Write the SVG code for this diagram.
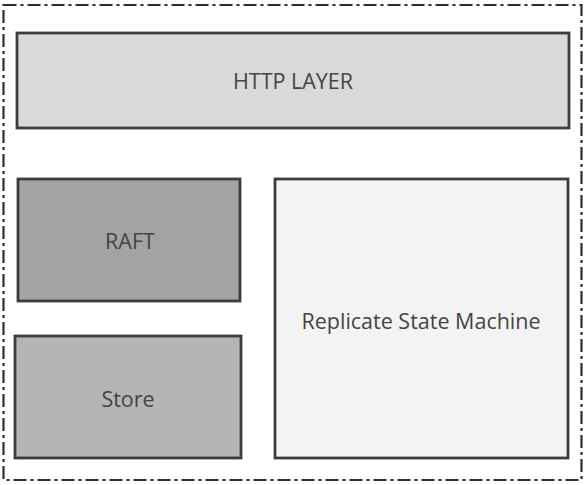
<svg xmlns="http://www.w3.org/2000/svg" width="587" height="485" viewBox="0 0 587 485">
  <style>
    .frame { fill: none; stroke: #2e2e2e; stroke-width: 2.2; stroke-dasharray: 13 4 3 4; }
    .box { stroke: #3c3c3c; stroke-width: 2.8; }
    .label { font-family: "Open Sans", "Noto Sans", "Liberation Sans", sans-serif; font-size: 21.5px; fill: #444444; text-anchor: middle; dominant-baseline: central; }
  </style>
  <rect width="587" height="485" fill="#ffffff"/>
  <!-- outer dash-dot boundary -->
  <rect class="frame" x="3.5" y="5" width="578" height="475"/>
  <g id="http-layer">
    <rect class="box" x="17" y="33" width="552" height="95" fill="#d9d9d9"/>
    <text class="label" x="293" y="80">HTTP LAYER</text>
  </g>
  <g id="raft">
    <rect class="box" x="18" y="179" width="222" height="122" fill="#a3a3a3"/>
    <text class="label" x="130" y="240">RAFT</text>
  </g>
  <g id="store">
    <rect class="box" x="15" y="336" width="226" height="122" fill="#b5b5b5"/>
    <text class="label" x="128" y="398">Store</text>
  </g>
  <g id="replicate-state-machine">
    <rect class="box" x="275" y="179" width="293" height="279" fill="#f3f3f3"/>
    <text class="label" x="421" y="320">Replicate State Machine</text>
  </g>
  <g id="connectors"/>
</svg>
